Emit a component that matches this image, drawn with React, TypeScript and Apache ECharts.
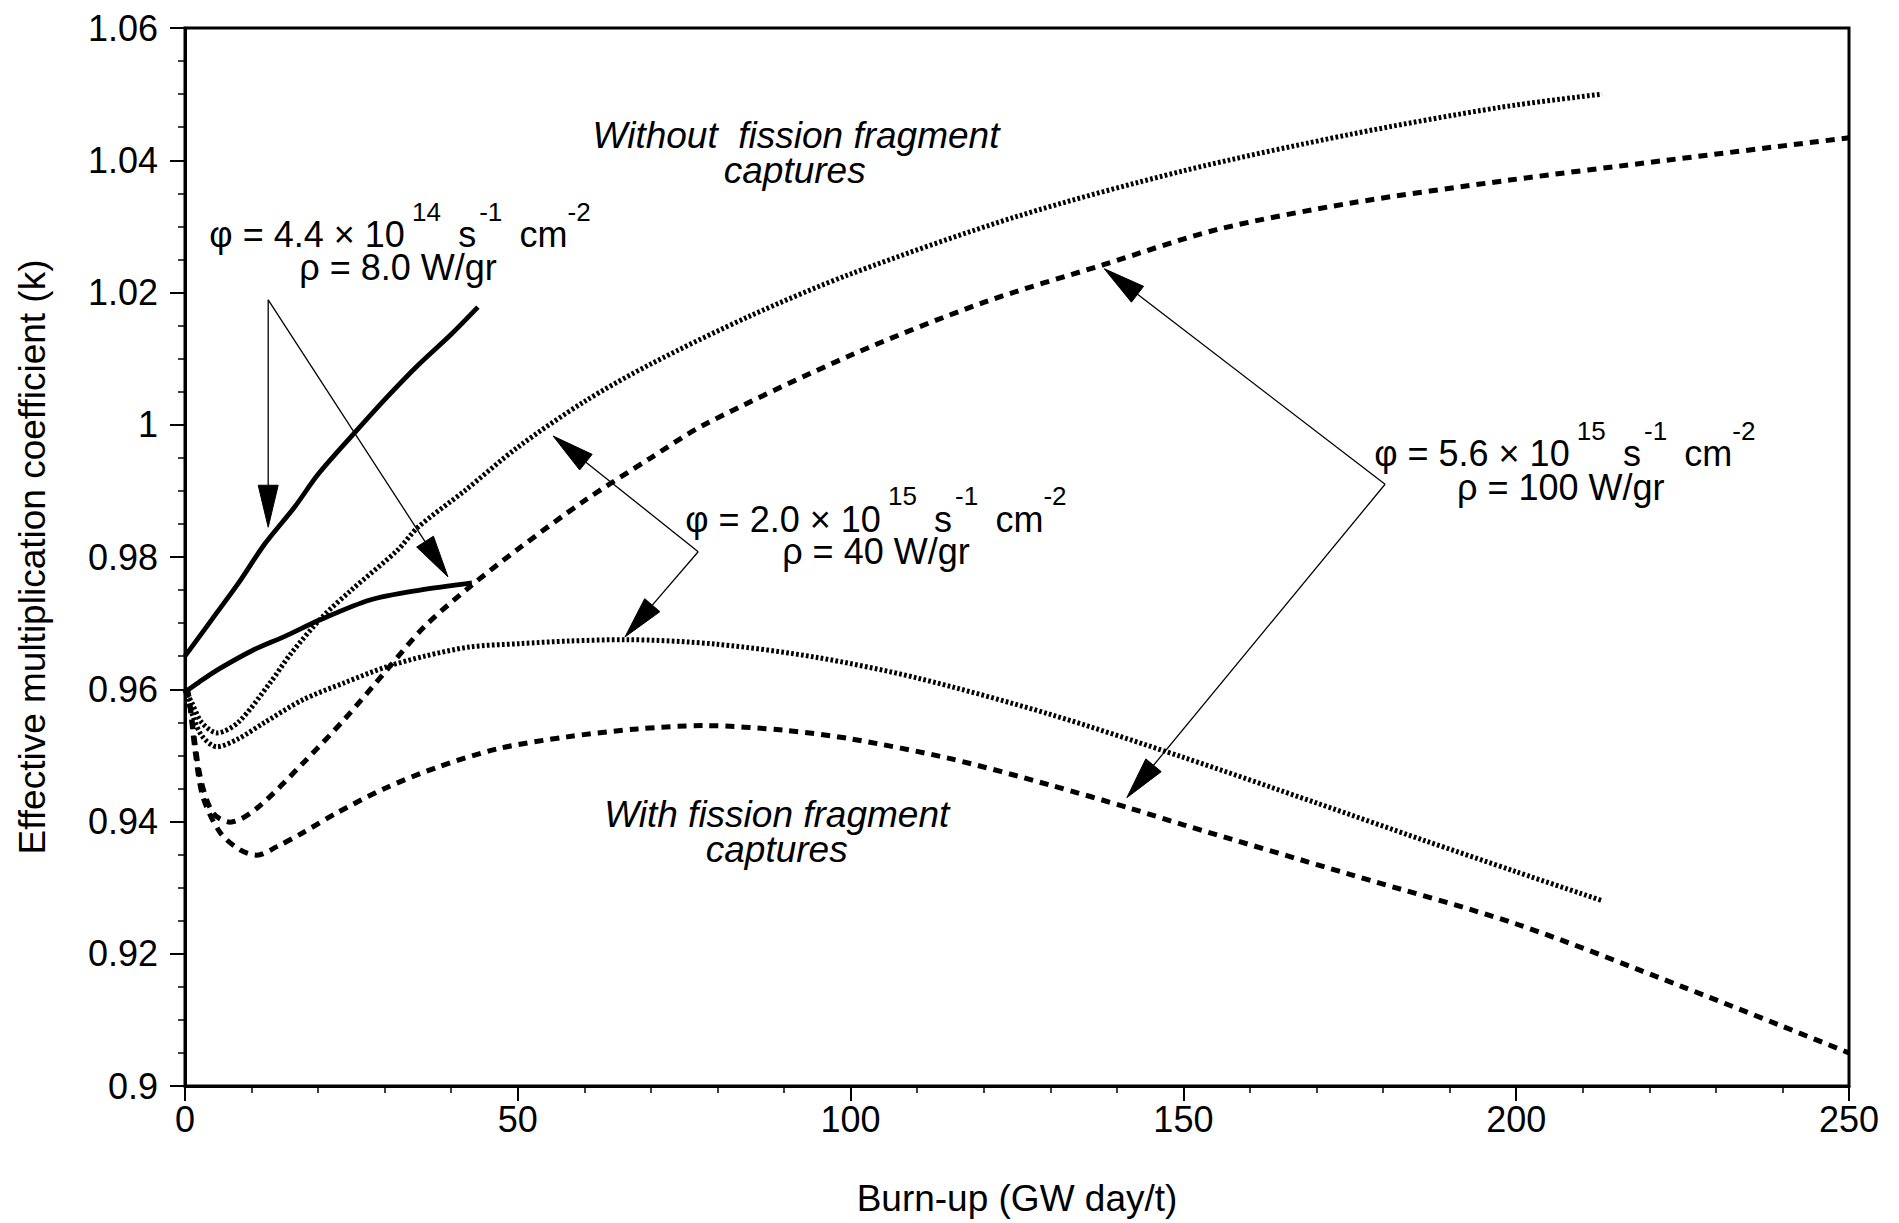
import React, { useEffect, useRef } from 'react';
import * as echarts from 'echarts';

const W = 1899;
const H = 1223;
const FONT = 'Liberation Sans, Arial, Helvetica, sans-serif';

// axis ranges / ticks
const xRange = [0, 250];
const xStep = 50;
const yRange = [0.9, 1.06];
const yStep = 0.02;

// phi = 4.4e14, without fission fragment captures (solid, upper)
const solidUpper: [number, number][] = [
  [0, 0.965], [4, 0.9705], [8, 0.976], [12, 0.982], [16.5, 0.9876], [20, 0.9925],
  [25.5, 0.9988], [30, 1.0038], [35, 1.009], [40, 1.0137], [44, 1.0178],
];
// phi = 4.4e14, with fission fragment captures (solid, lower)
const solidLower: [number, number][] = [
  [0, 0.9596], [2, 0.961], [5, 0.963], [10.2, 0.9659], [15, 0.968], [20.3, 0.9705],
  [27.8, 0.9735], [35.3, 0.975], [43.1, 0.9761],
];
// phi = 2.0e15, without (dotted, upper)
const dottedUpper: [number, number][] = [
  [0, 0.96], [1, 0.958], [2.5, 0.955], [4.8, 0.9534], [8, 0.955], [12.8, 0.961],
  [16, 0.9655], [20.7, 0.971], [25, 0.975], [31.9, 0.981], [35, 0.9845], [42, 0.99],
  [50, 0.9966], [60, 1.0035], [70, 1.0092], [85, 1.0165], [100, 1.0228], [125, 1.0315],
  [150, 1.0384], [175, 1.0439], [197.6, 1.048], [212.9, 1.05],
];
// phi = 2.0e15, with (dotted, lower)
const dottedLower: [number, number][] = [
  [0, 0.96], [1, 0.9565], [2.5, 0.953], [4.8, 0.9513], [8, 0.9525], [12, 0.955],
  [17.7, 0.9584], [24, 0.961], [30.3, 0.9634], [36, 0.965], [42.8, 0.9664], [50.3, 0.9669],
  [57.8, 0.9673], [66, 0.9675], [80, 0.9668], [95, 0.9648], [110, 0.9617], [130, 0.9562],
  [150, 0.9497], [170, 0.9428], [186, 0.9372], [200, 0.9324], [213, 0.928],
];
// phi = 5.6e15, without (dashed, upper)
const dashedUpper: [number, number][] = [
  [0, 0.96], [0.75, 0.9573], [2.3, 0.9467], [4.2, 0.9413], [6.8, 0.9399], [10.8, 0.942],
  [17.8, 0.9489], [24, 0.9555], [30.3, 0.9629], [36, 0.9695], [42.8, 0.9755], [49.9, 0.9811],
  [60, 0.9885], [70, 0.995], [78, 1.0], [100, 1.0105], [120, 1.0185], [138, 1.0242],
  [155, 1.0295], [175, 1.0335], [199, 1.037], [222.6, 1.04], [250, 1.0434],
];
// phi = 5.6e15, with (dashed, lower)
const dashedLower: [number, number][] = [
  [0, 0.96], [0.5, 0.9595], [1.5, 0.9508], [2.7, 0.9437], [5.3, 0.9383], [8.3, 0.9357],
  [10.8, 0.9349], [13.8, 0.9362], [17.7, 0.9383], [22.8, 0.9413], [30, 0.945], [37.9, 0.9482],
  [47, 0.951], [57.4, 0.9528], [68, 0.954], [78, 0.9545], [90, 0.9538], [100, 0.9525],
  [115, 0.9495], [130, 0.9455], [142, 0.942], [150, 0.9395], [175, 0.932], [200, 0.9245],
  [225, 0.915], [250, 0.905],
];

// annotation anchors (data coordinates)
const arrows: { from: [number, number]; to: [number, number] }[] = [
  { from: [12.5, 1.0189], to: [12.5, 0.9845] },
  { from: [12.5, 1.0189], to: [39.5, 0.977] },
  { from: [77.1, 0.9808], to: [55.3, 0.9983] },
  { from: [77.1, 0.9808], to: [66.1, 0.9679] },
  { from: [180.3, 0.991], to: [138.1, 1.0236] },
  { from: [180.3, 0.991], to: [141.5, 0.9436] },
];
const fluxLabels = [
  { at: [32.3, 1.0287], at2: [32.0, 1.0238], mant: '4.4', exp: '14', rho: '8.0' },
  { at: [103.8, 0.9857], at2: [103.8, 0.9808], mant: '2.0', exp: '15', rho: '40' },
  { at: [207.3, 0.9956], at2: [206.7, 0.9905], mant: '5.6', exp: '15', rho: '100' },
];
const captions = [
  { at: [91.8, 1.0438], text: 'Without  fission fragment' },
  { at: [91.6, 1.0385], text: 'captures' },
  { at: [88.9, 0.9411], text: 'With fission fragment' },
  { at: [88.9, 0.9357], text: 'captures' },
];

const FS = 36;
const SUP = 26;

export default function App() {
  const ref = useRef<HTMLDivElement>(null);
  useEffect(() => {
    const chart = echarts.init(ref.current!, null, { renderer: 'svg' });
    const lineSeries = (data: [number, number][], type: any, width: number) => ({
      type: 'line',
      data,
      showSymbol: false,
      smooth: 0.3,
      lineStyle: { color: '#000', width, type },
      z: 3,
    });
    const axisCommon = {
      type: 'value',
      axisLine: { show: true, onZero: false, lineStyle: { color: '#000', width: 3 } },
      axisTick: { show: true, inside: false, length: 15, lineStyle: { color: '#000', width: 2 } },
      splitLine: { show: false },
      axisLabel: { color: '#000', fontSize: 36, fontFamily: FONT },
      nameTextStyle: { color: '#000', fontSize: 37, fontFamily: FONT },
    };
    chart.setOption({
      animation: false,
      backgroundColor: '#fff',
      grid: { left: 185, top: 28, right: 50, bottom: 137, show: true, borderColor: '#000', borderWidth: 3 },
      xAxis: {
        ...axisCommon,
        min: xRange[0],
        max: xRange[1],
        interval: xStep,
        minorTick: { show: true, splitNumber: 5, length: 7, lineStyle: { color: '#000', width: 1.5 } },
        axisLabel: { ...axisCommon.axisLabel, margin: 15 },
        name: 'Burn-up (GW day/t)',
        nameLocation: 'middle',
        nameGap: 94,
      },
      yAxis: {
        ...axisCommon,
        min: yRange[0],
        max: yRange[1],
        interval: yStep,
        minorTick: { show: true, splitNumber: 4, length: 7, lineStyle: { color: '#000', width: 1.5 } },
        axisLabel: { ...axisCommon.axisLabel, margin: 27 },
        name: 'Effective multiplication coefficient (k)',
        nameLocation: 'middle',
        nameGap: 134,
      },
      series: [
        lineSeries(solidUpper, 'solid', 4.8),
        lineSeries(solidLower, 'solid', 4.8),
        lineSeries(dottedUpper, [2.7, 2.3], 5),
        lineSeries(dottedLower, [2.7, 2.3], 5),
        lineSeries(dashedUpper, [9, 7], 5),
        lineSeries(dashedLower, [9, 7], 5),
      ],
    });

    const px = (p: number[]) => chart.convertToPixel({ gridIndex: 0 }, p) as number[];
    const elements: any[] = [];
    const HEAD_L = 42;
    const HEAD_HW = 10;
    arrows.forEach((a) => {
      const [x1, y1] = px(a.from);
      const [x2, y2] = px(a.to);
      const dx = x2 - x1;
      const dy = y2 - y1;
      const len = Math.hypot(dx, dy);
      const ux = dx / len;
      const uy = dy / len;
      const bx = x2 - ux * HEAD_L;
      const by = y2 - uy * HEAD_L;
      elements.push({
        type: 'line',
        shape: { x1, y1, x2: bx, y2: by },
        style: { stroke: '#000', lineWidth: 1.3 },
        z: 10,
      });
      elements.push({
        type: 'polygon',
        shape: {
          points: [
            [x2, y2],
            [bx - uy * HEAD_HW, by + ux * HEAD_HW],
            [bx + uy * HEAD_HW, by - ux * HEAD_HW],
          ],
        },
        style: { fill: '#000', stroke: '#000', lineWidth: 1 },
        z: 10,
      });
    });
    const MAIN_LH = 54;
    fluxLabels.forEach((l) => {
      const [x, y] = px(l.at);
      elements.push({
        type: 'text',
        x,
        y: y + FS / 2,
        z: 11,
        style: {
          text: `{m|\u03c6 = ${l.mant} \u00d7 10\u2009}{s|${l.exp}}{m|\u2009 s\u200a}{s|-1}{m|\u2009 cm}{s|-2}`,
          align: 'center',
          verticalAlign: 'bottom',
          textAlign: 'center',
          textVerticalAlign: 'bottom',
          fill: '#000',
          rich: {
            m: { fontSize: FS, fontFamily: FONT, lineHeight: MAIN_LH, verticalAlign: 'bottom', fill: '#000' },
            s: { fontSize: SUP, fontFamily: FONT, verticalAlign: 'top', fill: '#000' },
          },
        },
      });
      const [x2, y2] = px(l.at2);
      elements.push({
        type: 'text',
        x: x2,
        y: y2,
        z: 11,
        style: {
          text: `\u03c1 = ${l.rho} W/gr`,
          fontSize: FS,
          fontFamily: FONT,
          align: 'center',
          verticalAlign: 'middle',
          textAlign: 'center',
          textVerticalAlign: 'middle',
          fill: '#000',
        },
      });
    });
    captions.forEach((c) => {
      const [x, y] = px(c.at);
      elements.push({
        type: 'text',
        x,
        y,
        z: 11,
        style: {
          text: c.text,
          fontSize: 37,
          fontStyle: 'italic',
          fontFamily: FONT,
          align: 'center',
          verticalAlign: 'middle',
          textAlign: 'center',
          textVerticalAlign: 'middle',
          fill: '#000',
        },
      });
    });
    chart.setOption({ graphic: { elements } });
    return () => chart.dispose();
  }, []);
  return (
    <div
      ref={ref}
      style={{ position: 'fixed', left: 0, top: 0, width: W, height: H, background: '#fff' }}
    />
  );
}
